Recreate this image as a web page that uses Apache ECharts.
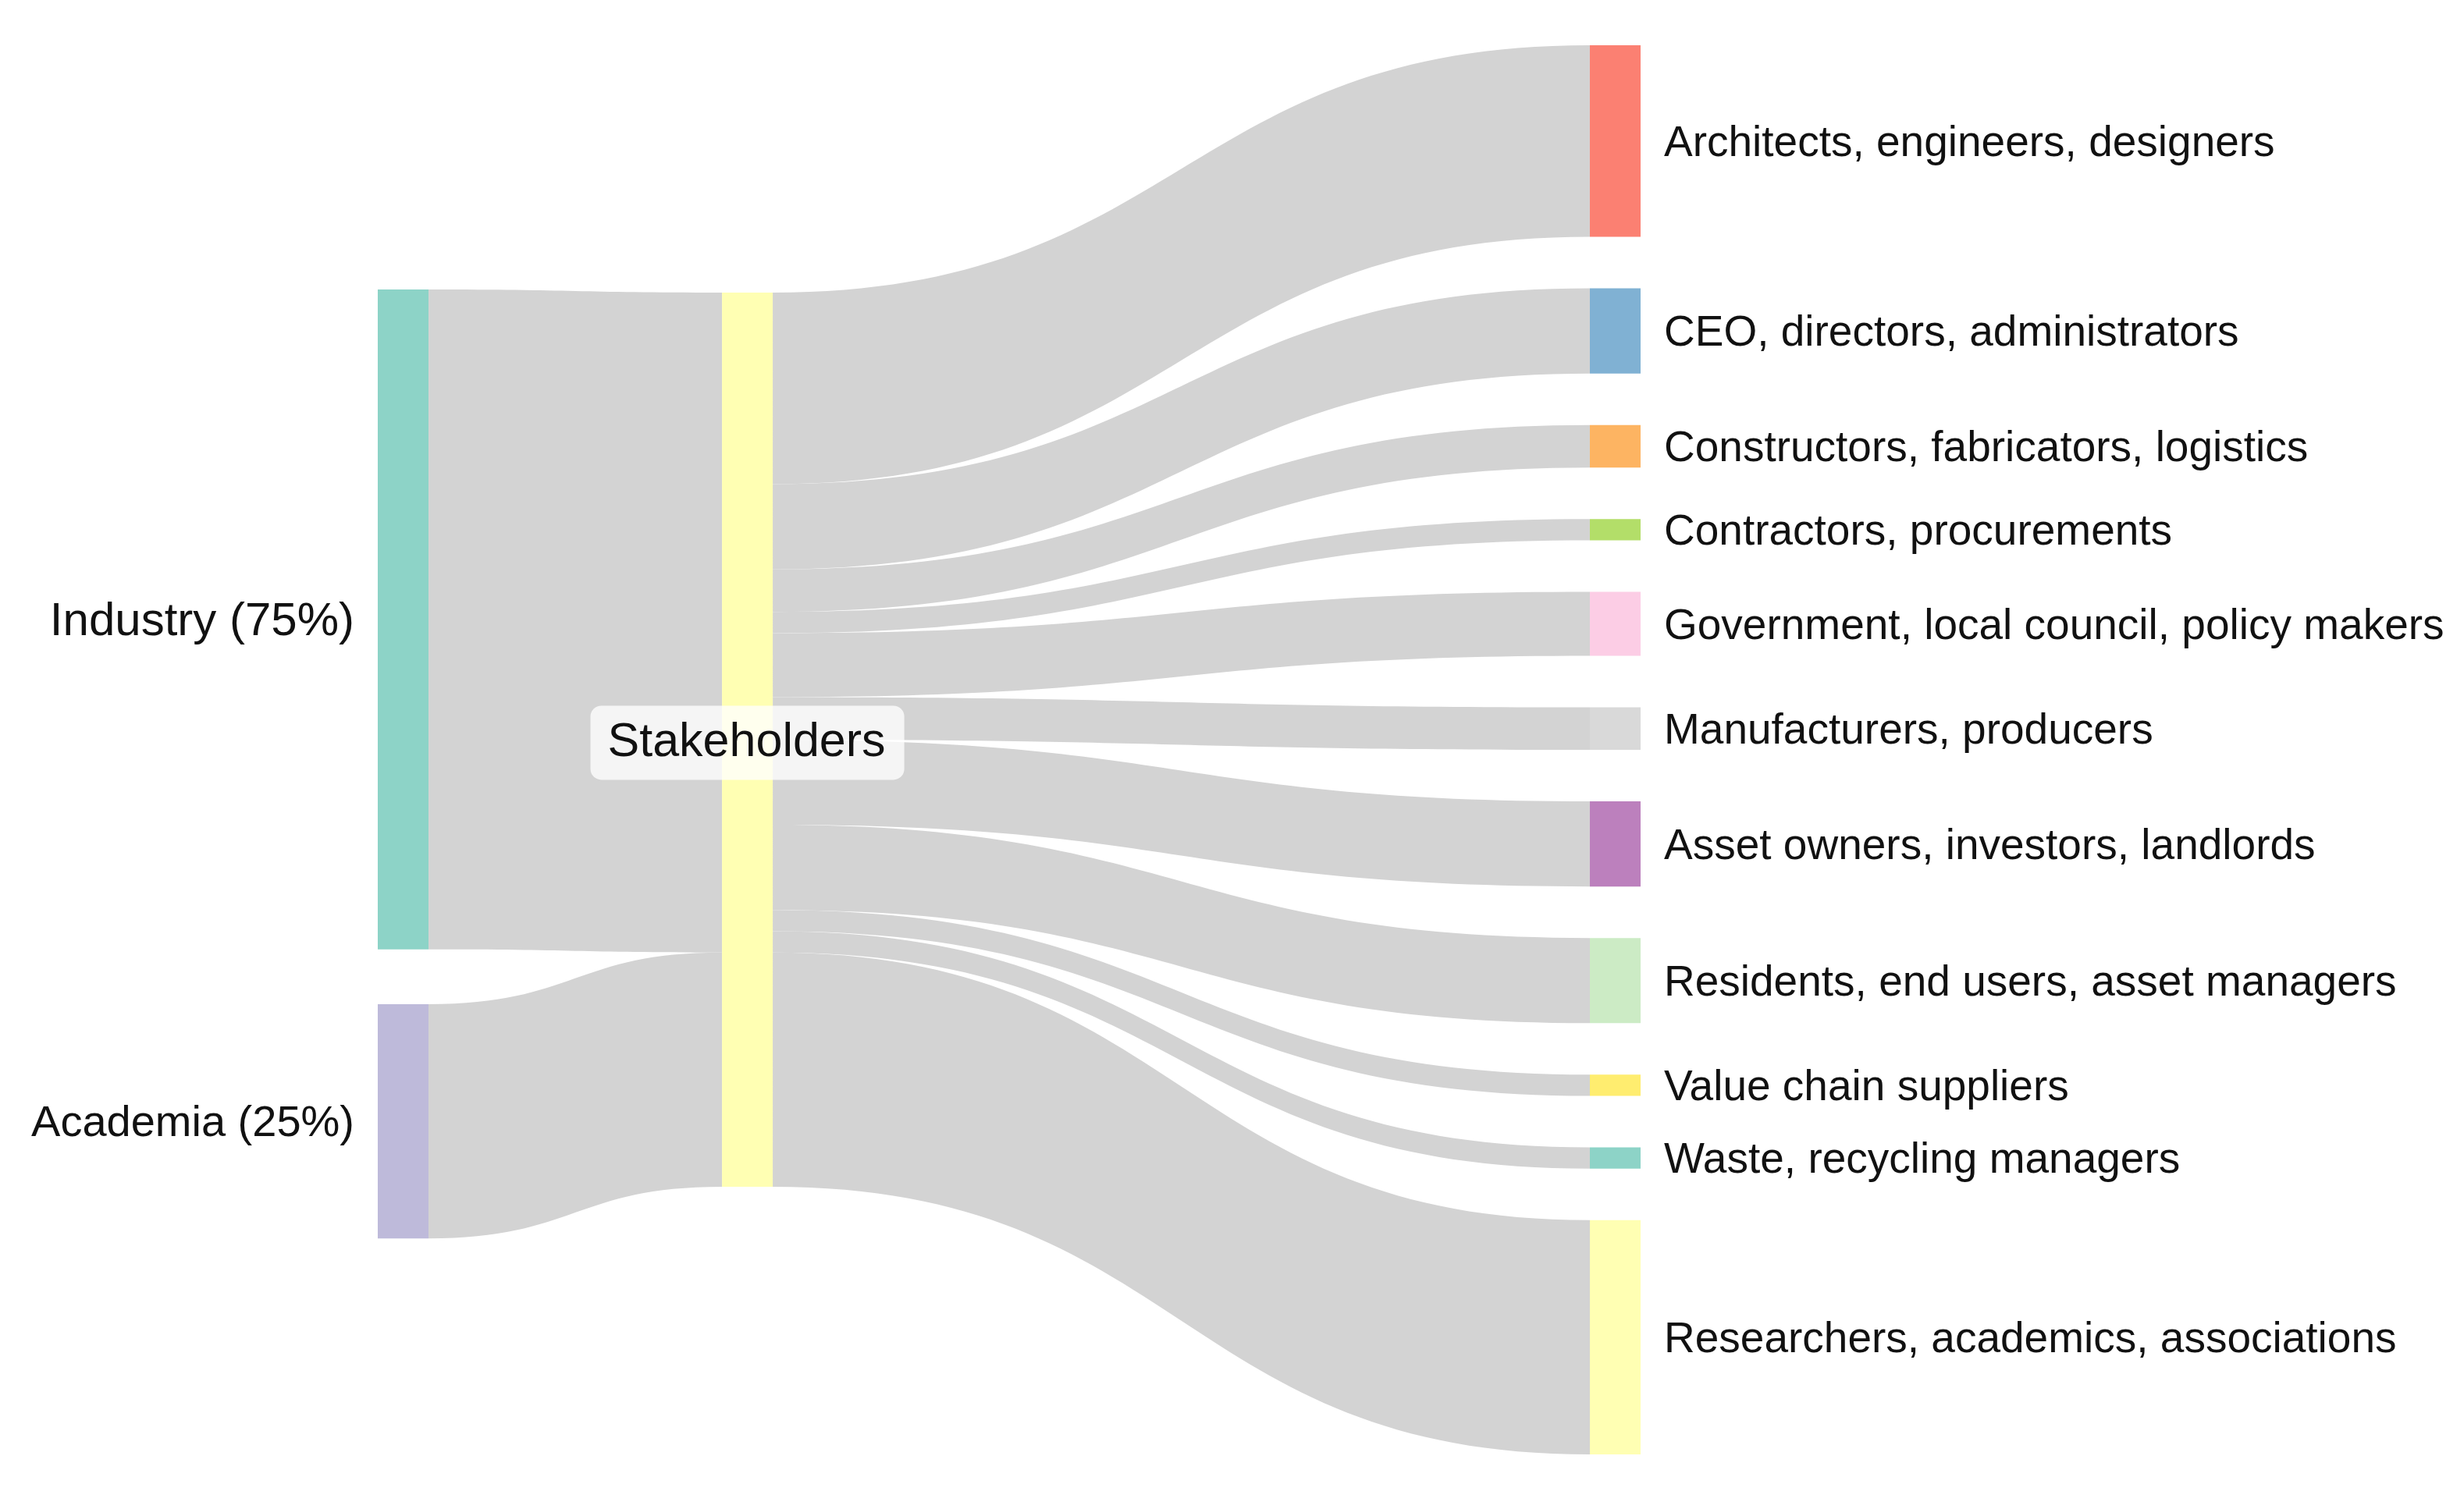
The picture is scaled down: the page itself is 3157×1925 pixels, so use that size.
<!DOCTYPE html>
<html>
<head>
<meta charset="utf-8">
<title>Stakeholders sankey</title>
<script src="https://cdn.jsdelivr.net/npm/echarts@6/dist/echarts.min.js"></script>
<style>
  html, body { margin: 0; padding: 0; background: #fff; }
  #chart { width: 3157px; height: 1925px; }
</style>
</head>
<body>
<div id="chart"></div>
<script>
// data
const sourceNames = ['Industry (75%)', 'Academia (25%)'];
const sourceValues = [31, 11];
const hubName = 'Stakeholders';
const targetNames = [
  'Architects, engineers, designers',
  'CEO, directors, administrators',
  'Constructors, fabricators, logistics',
  'Contractors, procurements',
  'Government, local council, policy makers',
  'Manufacturers, producers',
  'Asset owners, investors, landlords',
  'Residents, end users, asset managers',
  'Value chain suppliers',
  'Waste, recycling managers',
  'Researchers, academics, associations'
];
const targetValues = [9, 4, 2, 1, 3, 2, 4, 4, 1, 1, 11];

// styles (Set3 palette, same order as the original)
const sourceColors = ['#8dd3c7', '#bebada'];
const hubColor = '#ffffb3';
const targetColors = ['#fb8072', '#80b1d3', '#fdb462', '#b3de69', '#fccde5', '#d9d9d9',
  '#bc80bd', '#ccebc5', '#ffed6f', '#8dd3c7', '#ffffb3'];

// hand placed columns (fractions of the layout box), like the original figure
const nodePos = {
  'Industry (75%)': { localX: 0, localY: 0.1733 },
  'Academia (25%)': { localX: 0, localY: 0.6805 },
  'Stakeholders': { localX: 0.2726, localY: 0.1755 }
};

const font = '"Liberation Sans", Arial, Helvetica, sans-serif';

let nodes = [];
let links = [];
sourceNames.forEach((name, i) => {
  nodes.push({
    name: name,
    ...nodePos[name],
    itemStyle: { color: sourceColors[i] },
    label: { position: 'left', distance: 30, fontSize: i === 0 ? 60 : 56 }
  });
  links.push({ source: name, target: hubName, value: sourceValues[i] });
});
nodes.push({
  name: hubName,
  ...nodePos[hubName],
  itemStyle: { color: hubColor },
  label: {
    position: 'inside',
    fontSize: 61,
    backgroundColor: 'rgba(255,255,255,0.78)',
    borderRadius: 14,
    padding: [17, 24, 17, 22]
  }
});
targetNames.forEach((name, i) => {
  nodes.push({
    name: name,
    itemStyle: { color: targetColors[i] },
    label: { position: 'right', distance: 30, fontSize: 55 }
  });
  links.push({ source: hubName, target: name, value: targetValues[i] });
});

const chart = echarts.init(document.getElementById('chart'));
chart.setOption({
  animation: false,
  backgroundColor: '#fff',
  series: [
    {
      type: 'sankey',
      left: 484,
      top: 58,
      width: 1618,
      height: 1806,
      nodeWidth: 65,
      nodeGap: 66,
      layoutIterations: 0,
      draggable: false,
      emphasis: { disabled: true },
      itemStyle: { borderWidth: 0 },
      label: {
        color: '#111',
        fontFamily: font,
        offset: [0, 4]
      },
      lineStyle: {
        color: '#d3d3d3',
        opacity: 1,
        curveness: 0.5
      },
      data: nodes,
      links: links
    }
  ]
});
</script>
</body>
</html>
